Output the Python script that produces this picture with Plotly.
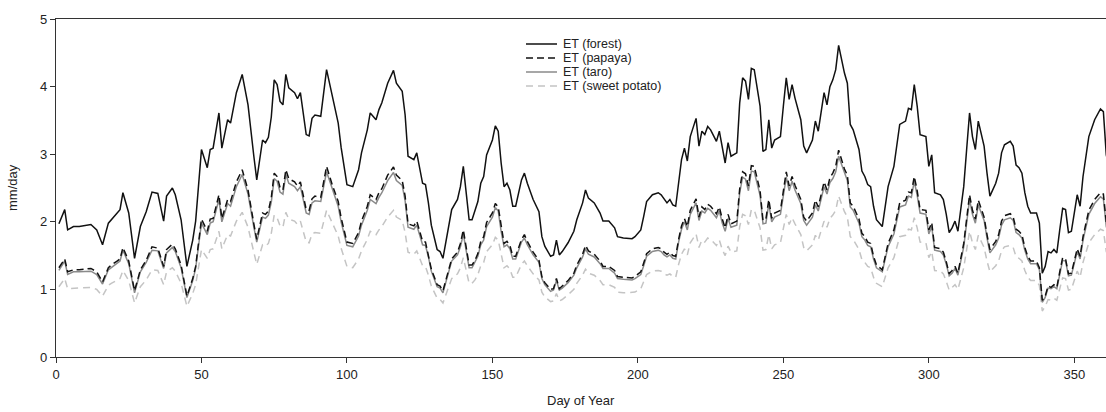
import plotly.graph_objects as go

# Day of year for each daily estimate
day = [1, 3, 4, 6, 8, 12, 14, 16, 18, 19, 21, 22, 23, 25, 27, 29, 31, 33, 35, 37,
       38, 40, 41, 43, 45, 47, 48, 50, 52, 53, 54, 56, 57, 59, 60, 62, 64, 66, 68, 69,
       71, 72, 73, 74, 75, 76, 77, 78, 79, 80, 82, 83, 84, 85, 86, 87, 88, 89, 91, 93,
       95, 97, 98, 100, 102, 104, 105, 107, 108, 110, 111, 112, 114, 116, 117, 119, 120, 121, 123, 124,
       126, 127, 128, 129, 131, 132, 133, 135, 136, 138, 139, 140, 142, 143, 144, 145, 146, 147, 148, 150,
       151, 152, 153, 154, 155, 156, 157, 158, 160, 161, 162, 163, 164, 166, 167, 168, 170, 171, 172, 173,
       174, 176, 178, 179, 181, 182, 183, 185, 186, 187, 188, 190, 192, 193, 195, 196, 198, 199, 201, 202,
       203, 205, 207, 208, 209, 210, 211, 212, 213, 214, 215, 216, 217, 218, 220, 221, 222, 223, 224, 225,
       227, 228, 229, 230, 231, 232, 234, 235, 236, 237, 238, 239, 240, 242, 243, 244, 245, 246, 247, 249,
       250, 251, 252, 253, 254, 256, 257, 258, 260, 261, 262, 263, 264, 265, 266, 267, 268, 269, 270, 271,
       272, 273, 274, 276, 277, 278, 279, 280, 281, 282, 284, 285, 286, 288, 289, 290, 292, 293, 294, 295,
       296, 297, 299, 300, 301, 302, 304, 305, 306, 307, 308, 309, 310, 312, 313, 314, 315, 316, 317, 318,
       319, 320, 321, 323, 324, 325, 326, 328, 329, 330, 331, 332, 333, 334, 335, 337, 338, 339, 340, 341,
       342, 343, 344, 345, 346, 347, 348, 349, 351, 352, 353, 355, 357, 359, 360, 361, 362]

et_forest = [1.97, 2.18, 1.88, 1.93, 1.93, 1.96, 1.88, 1.66, 1.98, 2.03, 2.13, 2.18, 2.43, 2.13, 1.46, 1.93, 2.15, 2.44, 2.42, 2.01,
             2.38, 2.50, 2.40, 2.03, 1.34, 1.73, 2.01, 3.07, 2.80, 3.07, 3.09, 3.61, 3.09, 3.51, 3.46, 3.91, 4.18, 3.73, 2.97, 2.62,
             3.21, 3.17, 3.25, 3.55, 4.10, 4.03, 3.78, 3.73, 4.18, 3.98, 3.91, 3.82, 3.91, 3.58, 3.29, 3.27, 3.53, 3.58, 3.56, 4.25,
             3.83, 3.46, 3.10, 2.55, 2.52, 2.77, 3.02, 3.36, 3.61, 3.51, 3.66, 3.76, 4.05, 4.24, 4.05, 3.93, 3.58, 2.97, 2.92, 3.02,
             2.57, 2.55, 2.28, 1.95, 1.59, 1.56, 1.46, 1.93, 2.18, 2.33, 2.52, 2.82, 2.03, 2.03, 2.15, 2.30, 2.57, 2.67, 2.99, 3.21,
             3.42, 3.34, 2.87, 2.52, 2.57, 2.47, 2.23, 2.23, 2.62, 2.72, 2.57, 2.45, 2.33, 2.15, 1.78, 1.64, 1.49, 1.51, 1.73, 1.51,
             1.56, 1.69, 1.86, 2.03, 2.28, 2.47, 2.35, 2.28, 2.20, 2.13, 2.01, 2.01, 1.91, 1.78, 1.76, 1.76, 1.75, 1.78, 1.88, 2.08,
             2.30, 2.40, 2.43, 2.40, 2.33, 2.28, 2.33, 2.25, 2.23, 2.62, 2.92, 3.09, 2.90, 3.26, 3.53, 3.12, 3.34, 3.29, 3.41, 3.36,
             3.19, 3.34, 3.07, 2.87, 3.17, 2.97, 3.02, 3.76, 4.13, 4.08, 3.81, 4.27, 4.25, 3.71, 3.04, 3.07, 3.51, 3.09, 3.21, 3.26,
             3.71, 4.13, 3.81, 4.03, 3.83, 3.51, 3.12, 3.02, 3.21, 3.49, 3.34, 3.63, 3.91, 3.73, 4.00, 4.10, 4.25, 4.61, 4.40, 4.20,
             4.05, 3.44, 3.36, 3.07, 2.75, 2.67, 2.55, 2.52, 2.23, 2.03, 1.93, 2.23, 2.52, 2.82, 3.15, 3.44, 3.49, 3.68, 3.66, 4.03,
             3.71, 3.29, 3.26, 2.82, 2.99, 2.43, 2.40, 2.33, 2.11, 1.84, 1.91, 2.01, 1.86, 2.52, 3.07, 3.61, 3.26, 3.07, 3.49, 3.31,
             3.12, 2.72, 2.38, 2.57, 2.72, 3.02, 3.14, 3.19, 3.12, 2.84, 2.80, 2.72, 2.43, 2.23, 2.13, 2.13, 1.98, 1.24, 1.34, 1.56,
             1.54, 1.59, 1.54, 1.88, 2.20, 2.18, 1.84, 1.86, 2.40, 2.23, 2.67, 3.26, 3.51, 3.67, 3.63, 2.99, 2.80]

et_papaya = [1.32, 1.45, 1.26, 1.29, 1.29, 1.31, 1.26, 1.11, 1.32, 1.36, 1.42, 1.45, 1.62, 1.42, 0.98, 1.29, 1.43, 1.63, 1.61, 1.34,
             1.59, 1.67, 1.60, 1.36, 0.90, 1.16, 1.34, 2.04, 1.86, 2.04, 2.05, 2.40, 2.05, 2.33, 2.30, 2.59, 2.77, 2.47, 1.97, 1.74,
             2.13, 2.11, 2.16, 2.36, 2.72, 2.67, 2.51, 2.47, 2.77, 2.64, 2.59, 2.53, 2.59, 2.38, 2.18, 2.17, 2.34, 2.38, 2.36, 2.82,
             2.54, 2.30, 2.06, 1.70, 1.68, 1.84, 2.01, 2.23, 2.40, 2.33, 2.43, 2.49, 2.69, 2.81, 2.69, 2.61, 2.38, 1.97, 1.94, 2.01,
             1.71, 1.70, 1.52, 1.30, 1.07, 1.05, 0.98, 1.29, 1.45, 1.55, 1.68, 1.88, 1.36, 1.36, 1.43, 1.53, 1.71, 1.78, 1.99, 2.13,
             2.27, 2.22, 1.91, 1.68, 1.71, 1.65, 1.49, 1.49, 1.74, 1.81, 1.71, 1.63, 1.55, 1.43, 1.19, 1.10, 1.00, 1.01, 1.16, 1.01,
             1.05, 1.13, 1.24, 1.36, 1.52, 1.65, 1.57, 1.52, 1.47, 1.42, 1.34, 1.34, 1.28, 1.19, 1.18, 1.18, 1.17, 1.19, 1.26, 1.39,
             1.53, 1.60, 1.62, 1.60, 1.55, 1.52, 1.55, 1.50, 1.49, 1.74, 1.94, 2.05, 1.93, 2.17, 2.34, 2.07, 2.22, 2.18, 2.26, 2.23,
             2.12, 2.22, 2.04, 1.91, 2.11, 1.97, 2.01, 2.49, 2.74, 2.71, 2.53, 2.83, 2.82, 2.46, 2.02, 2.04, 2.33, 2.05, 2.13, 2.17,
             2.46, 2.74, 2.53, 2.67, 2.54, 2.33, 2.07, 2.01, 2.13, 2.32, 2.22, 2.41, 2.59, 2.47, 2.65, 2.72, 2.82, 3.06, 2.92, 2.78,
             2.69, 2.28, 2.23, 2.04, 1.83, 1.78, 1.70, 1.68, 1.49, 1.36, 1.29, 1.49, 1.68, 1.88, 2.09, 2.28, 2.32, 2.44, 2.43, 2.67,
             2.46, 2.18, 2.17, 1.88, 1.99, 1.62, 1.60, 1.55, 1.41, 1.23, 1.28, 1.34, 1.24, 1.68, 2.04, 2.40, 2.17, 2.04, 2.32, 2.20,
             2.07, 1.81, 1.59, 1.71, 1.81, 2.01, 2.09, 2.12, 2.07, 1.89, 1.86, 1.81, 1.62, 1.49, 1.42, 1.42, 1.32, 0.84, 0.90, 1.05,
             1.03, 1.07, 1.03, 1.26, 1.47, 1.45, 1.23, 1.24, 1.60, 1.49, 1.78, 2.17, 2.33, 2.43, 2.41, 1.99, 1.86]

et_taro = [1.28, 1.42, 1.22, 1.26, 1.26, 1.27, 1.22, 1.08, 1.29, 1.32, 1.38, 1.42, 1.58, 1.38, 0.95, 1.26, 1.40, 1.58, 1.57, 1.31,
           1.54, 1.62, 1.56, 1.32, 0.88, 1.13, 1.31, 1.98, 1.81, 1.98, 2.00, 2.33, 2.00, 2.27, 2.23, 2.52, 2.70, 2.41, 1.92, 1.70,
           2.07, 2.05, 2.10, 2.29, 2.64, 2.60, 2.44, 2.41, 2.70, 2.57, 2.52, 2.46, 2.52, 2.31, 2.13, 2.11, 2.28, 2.31, 2.30, 2.74,
           2.47, 2.23, 2.00, 1.65, 1.63, 1.79, 1.95, 2.17, 2.33, 2.27, 2.36, 2.43, 2.61, 2.73, 2.61, 2.54, 2.31, 1.92, 1.89, 1.95,
           1.66, 1.65, 1.48, 1.27, 1.04, 1.02, 0.95, 1.26, 1.42, 1.51, 1.63, 1.82, 1.32, 1.32, 1.40, 1.49, 1.66, 1.73, 1.93, 2.07,
           2.21, 2.16, 1.86, 1.63, 1.66, 1.60, 1.45, 1.45, 1.70, 1.76, 1.66, 1.59, 1.51, 1.40, 1.16, 1.07, 0.97, 0.99, 1.13, 0.99,
           1.02, 1.10, 1.21, 1.32, 1.48, 1.60, 1.52, 1.48, 1.43, 1.38, 1.31, 1.31, 1.24, 1.16, 1.15, 1.15, 1.14, 1.16, 1.22, 1.35,
           1.49, 1.56, 1.58, 1.56, 1.51, 1.48, 1.51, 1.46, 1.45, 1.70, 1.89, 2.00, 1.88, 2.11, 2.28, 2.02, 2.16, 2.13, 2.20, 2.17,
           2.06, 2.16, 1.98, 1.86, 2.05, 1.92, 1.95, 2.43, 2.66, 2.63, 2.46, 2.75, 2.74, 2.39, 1.97, 1.98, 2.27, 2.00, 2.07, 2.11,
           2.39, 2.66, 2.46, 2.60, 2.47, 2.27, 2.02, 1.95, 2.07, 2.25, 2.16, 2.34, 2.52, 2.41, 2.58, 2.64, 2.74, 2.97, 2.84, 2.71,
           2.61, 2.22, 2.17, 1.98, 1.78, 1.73, 1.65, 1.63, 1.45, 1.32, 1.26, 1.45, 1.63, 1.82, 2.04, 2.22, 2.25, 2.38, 2.36, 2.60,
           2.39, 2.13, 2.11, 1.82, 1.93, 1.58, 1.56, 1.51, 1.37, 1.20, 1.24, 1.31, 1.21, 1.63, 1.98, 2.33, 2.11, 1.98, 2.25, 2.14,
           2.02, 1.76, 1.54, 1.66, 1.76, 1.95, 2.03, 2.06, 2.02, 1.84, 1.81, 1.76, 1.58, 1.45, 1.38, 1.38, 1.29, 0.81, 0.88, 1.02,
           1.01, 1.04, 1.01, 1.22, 1.43, 1.42, 1.20, 1.21, 1.56, 1.45, 1.73, 2.11, 2.27, 2.37, 2.34, 1.93, 1.81]

et_sweet_potato = [1.04, 1.16, 1.01, 1.02, 1.02, 1.03, 1.00, 0.90, 1.06, 1.09, 1.13, 1.16, 1.28, 1.13, 0.80, 1.04, 1.14, 1.29, 1.28, 1.07,
                   1.26, 1.32, 1.27, 1.09, 0.75, 0.94, 1.07, 1.59, 1.46, 1.59, 1.60, 1.86, 1.60, 1.81, 1.79, 2.01, 2.14, 1.92, 1.55, 1.37,
                   1.66, 1.64, 1.68, 1.83, 2.10, 2.06, 1.94, 1.92, 2.14, 2.04, 2.01, 1.96, 2.01, 1.84, 1.70, 1.69, 1.82, 1.84, 1.83, 2.17,
                   1.97, 1.79, 1.61, 1.34, 1.32, 1.45, 1.57, 1.74, 1.86, 1.81, 1.88, 1.93, 2.07, 2.17, 2.07, 2.02, 1.84, 1.55, 1.52, 1.57,
                   1.35, 1.34, 1.21, 1.05, 0.87, 0.85, 0.80, 1.04, 1.16, 1.23, 1.32, 1.47, 1.09, 1.09, 1.14, 1.22, 1.35, 1.40, 1.56, 1.66,
                   1.77, 1.73, 1.50, 1.32, 1.35, 1.30, 1.18, 1.18, 1.37, 1.42, 1.35, 1.29, 1.23, 1.14, 0.96, 0.89, 0.82, 0.83, 0.94, 0.83,
                   0.85, 0.92, 1.00, 1.09, 1.21, 1.30, 1.24, 1.21, 1.17, 1.13, 1.07, 1.07, 1.03, 0.96, 0.95, 0.95, 0.95, 0.96, 1.01, 1.11,
                   1.22, 1.27, 1.28, 1.27, 1.23, 1.21, 1.23, 1.19, 1.18, 1.37, 1.52, 1.60, 1.51, 1.69, 1.82, 1.62, 1.73, 1.70, 1.76, 1.74,
                   1.65, 1.73, 1.59, 1.50, 1.64, 1.55, 1.57, 1.93, 2.11, 2.09, 1.96, 2.18, 2.17, 1.91, 1.58, 1.59, 1.81, 1.60, 1.66, 1.69,
                   1.91, 2.11, 1.96, 2.06, 1.97, 1.81, 1.62, 1.57, 1.66, 1.80, 1.73, 1.87, 2.01, 1.92, 2.05, 2.10, 2.17, 2.38, 2.25, 2.15,
                   2.07, 1.78, 1.74, 1.59, 1.44, 1.40, 1.34, 1.32, 1.18, 1.09, 1.04, 1.18, 1.32, 1.47, 1.63, 1.78, 1.80, 1.89, 1.88, 2.06,
                   1.91, 1.70, 1.69, 1.47, 1.56, 1.28, 1.27, 1.23, 1.12, 0.99, 1.03, 1.07, 1.00, 1.32, 1.59, 1.86, 1.69, 1.59, 1.80, 1.71,
                   1.62, 1.42, 1.26, 1.35, 1.42, 1.57, 1.63, 1.65, 1.62, 1.48, 1.46, 1.42, 1.28, 1.18, 1.13, 1.13, 1.06, 0.68, 0.75, 0.85,
                   0.84, 0.87, 0.84, 1.01, 1.17, 1.16, 0.99, 1.00, 1.27, 1.18, 1.40, 1.69, 1.81, 1.89, 1.87, 1.56, 1.46]

series = [
    ("ET (sweet potato)", et_sweet_potato, "#c4c4c4", "7px,5px"),
    ("ET (taro)", et_taro, "#8a8a8a", "solid"),
    ("ET (papaya)", et_papaya, "#111111", "7px,4px"),
    ("ET (forest)", et_forest, "#111111", "solid"),
]

FONT = "Liberation Sans, Arial, sans-serif"

fig = go.Figure()
for name, vals, color, dash in series:
    fig.add_trace(go.Scatter(x=day, y=vals, mode="lines", name=name,
                             line=dict(color=color, width=1.5, dash=dash)))

# Hand-built legend block (tight row spacing), listed top to bottom
W, H, L, B = 1106, 412, 56, 55
plot_h = H - 19 - B


def px_x(p):
    return (p - L) / (W - L)


def px_y(p):
    return (H - B - p) / plot_h


legend_rows = [series[3], series[2], series[1], series[0]]
row_y = [44, 58, 72, 86]
for (name, _, color, dash), yy in zip(legend_rows, row_y):
    fig.add_shape(type="line", xref="paper", yref="paper",
                  x0=px_x(526), x1=px_x(557), y0=px_y(yy), y1=px_y(yy),
                  line=dict(color=color, width=1.5, dash=dash))
    fig.add_annotation(x=px_x(562), y=px_y(yy), xref="paper", yref="paper",
                       text=name, showarrow=False, xanchor="left", yanchor="middle",
                       borderpad=0, font=dict(family=FONT, size=12.5, color="#222222"))

fig.add_annotation(x=0.5, y=px_y(400), xref="paper", yref="paper", text="Day of Year",
                   showarrow=False, xanchor="center", yanchor="middle",
                   font=dict(family=FONT, size=13, color="#222222"))
fig.add_annotation(x=px_x(12), y=px_y(188), xref="paper", yref="paper", text="mm/day",
                   showarrow=False, textangle=-90, xanchor="center", yanchor="middle",
                   font=dict(family=FONT, size=13, color="#222222"))

fig.update_layout(
    width=W, height=H,
    margin=dict(l=L, r=0, t=19, b=B),
    paper_bgcolor="white", plot_bgcolor="white",
    showlegend=False,
    font=dict(family=FONT, size=13, color="#222222"),
)
fig.update_xaxes(range=[0, 360.9], tickvals=[0, 50, 100, 150, 200, 250, 300, 350],
                 showgrid=False, zeroline=False, showline=True, linecolor="#333333",
                 linewidth=1.2, mirror=True, ticks="outside", ticklen=5, tickcolor="#333333")
fig.update_yaxes(range=[0, 5], tickvals=[0, 1, 2, 3, 4, 5],
                 showgrid=False, zeroline=False, showline=True, linecolor="#333333",
                 linewidth=1.2, ticks="outside", ticklen=5, tickcolor="#333333")

fig.write_html("out.html")
